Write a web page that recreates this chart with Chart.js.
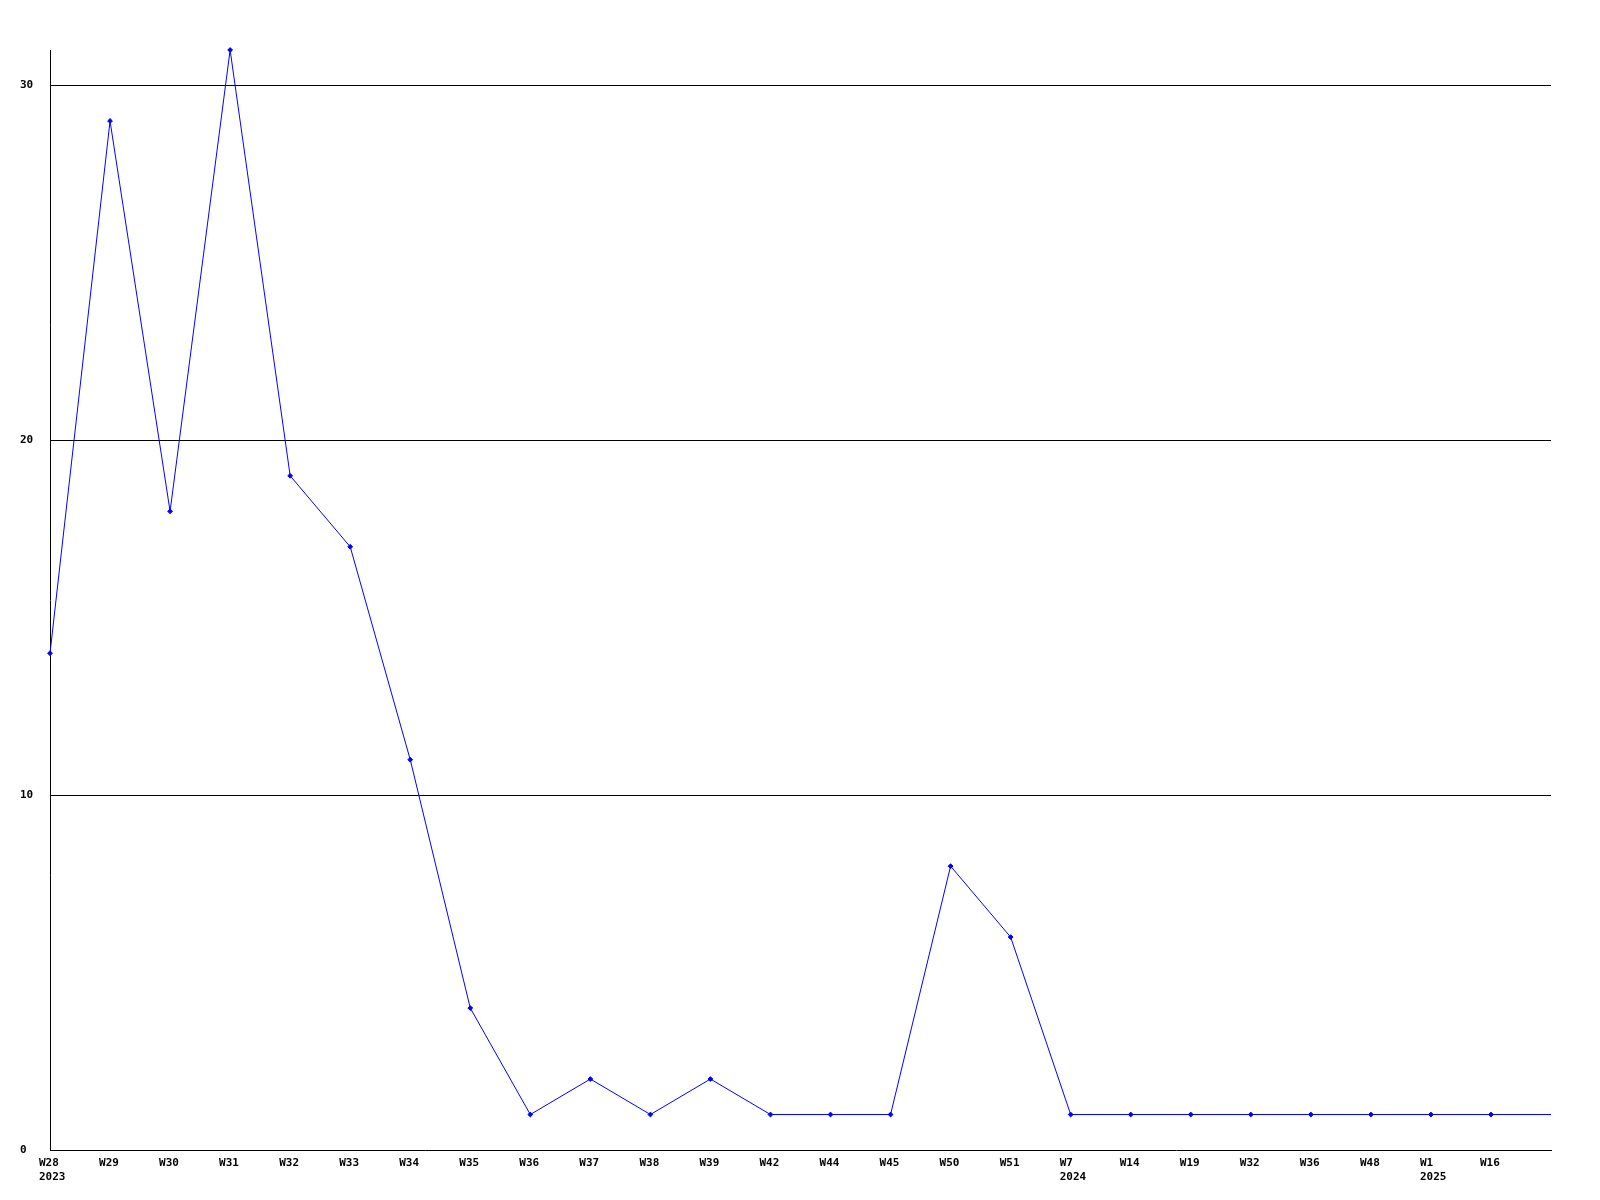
<!DOCTYPE html>
<html>
<head>
<meta charset="utf-8">
<script src="https://cdn.jsdelivr.net/npm/chart.js@4"></script>
<style>
  html, body { margin: 0; padding: 0; background: #fff; }
  #wrap { width: 1600px; height: 1200px; }
</style>
</head>
<body>
<div id="wrap"><canvas id="chart" width="1600" height="1200"></canvas></div>
<script>
// weeks shown on the x axis, year is printed under the first week of each year
const weeks = ['W28', 'W29', 'W30', 'W31', 'W32', 'W33', 'W34', 'W35', 'W36', 'W37', 'W38', 'W39', 'W42',
    'W44', 'W45', 'W50', 'W51', 'W7', 'W14', 'W19', 'W32', 'W36', 'W48', 'W1', 'W16', ''];
const years = ['2023', '', '', '', '', '', '', '', '', '', '', '', '',
    '', '', '', '', '2024', '', '', '', '', '', '2025', '', ''];
const counts = [14, 29, 18, 31, 19, 17, 11, 4, 1, 2, 1, 2, 1,
    1, 1, 8, 6, 1, 1, 1, 1, 1, 1, 1, 1, 1];
const yTicks = [0, 10, 20, 30];

const labels = weeks.map((w, i) => years[i] ? [w, years[i]] : w);
const font = { family: 'DejaVu Sans Mono', size: 11, weight: 'bold' };

const ctx = document.getElementById('chart').getContext('2d');
window.myChart = new Chart(ctx, {
    type: 'line',
    data: {
        labels: labels,
        datasets: [{
            data: counts,
            borderColor: '#0000ff',
            backgroundColor: '#0000ff',
            borderWidth: 1,
            pointStyle: 'rectRot',
            pointRadius: counts.map((v, i) => weeks[i] ? 2.4 : 0),
            pointBorderWidth: 1,
            tension: 0,
            fill: false,
            clip: false
        }]
    },
    options: {
        responsive: false,
        animation: false,
        layout: { padding: { top: 50, right: 49, left: 20, bottom: 0 } },
        plugins: {
            legend: { display: false },
            tooltip: { enabled: false }
        },
        scales: {
            x: {
                offset: false,
                grid: { display: false, drawTicks: false },
                border: { color: '#000', width: 1 },
                ticks: {
                    color: '#000',
                    font: font,
                    maxRotation: 0,
                    autoSkip: false,
                    align: 'start',
                    labelOffset: -11,
                    padding: 7
                },
                afterFit: s => { s.height = 50; }
            },
            y: {
                min: 0,
                max: 31,
                grid: {
                    color: c => c.tick && c.tick.value === 0 ? 'rgba(0,0,0,0)' : '#000',
                    lineWidth: 1,
                    drawTicks: false
                },
                border: { color: '#000', width: 1 },
                ticks: {
                    color: '#000',
                    font: font,
                    crossAlign: 'far',
                    padding: 0
                },
                afterBuildTicks: s => { s.ticks = yTicks.map(v => ({ value: v })); },
                afterFit: s => { s.width = 30; }
            }
        }
    }
});
</script>
</body>
</html>
